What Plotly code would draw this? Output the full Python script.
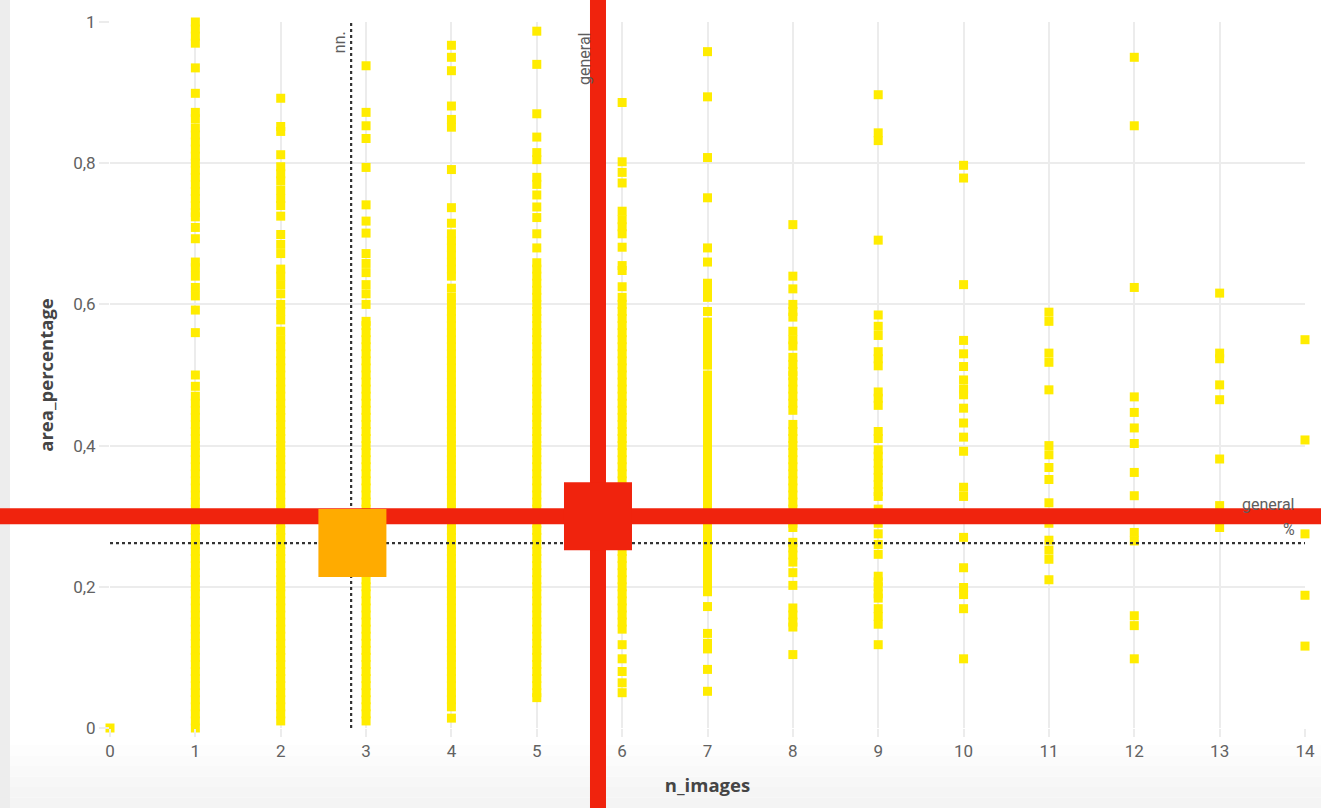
import plotly.graph_objects as go

# ---------------- data ----------------
n_images = list(range(15))

area_n0 = [0.0]
area_n1 = [1.0, 0.99, 0.98, 0.97, 0.935, 0.899, 0.872, 0.863,
           0.85, 0.84, 0.83, 0.82, 0.81, 0.80, 0.79, 0.78, 0.77, 0.76, 0.75, 0.74, 0.73, 0.724,
           0.709, 0.693, 0.66, 0.652, 0.64, 0.624, 0.612, 0.592, 0.56, 0.50,
           0.484, 0.47, 0.46, 0.45, 0.44, 0.43, 0.42, 0.41, 0.40, 0.39, 0.38, 0.37, 0.36, 0.35,
           0.34, 0.33, 0.32, 0.31, 0.30, 0.29, 0.28, 0.27, 0.26, 0.25, 0.24, 0.23, 0.22, 0.21,
           0.20, 0.19, 0.18, 0.17, 0.16, 0.15, 0.14, 0.13, 0.12, 0.11, 0.10, 0.09, 0.08, 0.07,
           0.06, 0.05, 0.04, 0.03, 0.02, 0.01, 0.0]
area_n2 = [0.892, 0.852, 0.845, 0.812, 0.795, 0.785, 0.775, 0.762, 0.75, 0.74, 0.725, 0.699,
           0.685, 0.672, 0.65, 0.64, 0.628, 0.615, 0.60, 0.59, 0.578,
           0.562, 0.55, 0.54, 0.53, 0.52, 0.51, 0.50, 0.49, 0.48, 0.47, 0.46, 0.45, 0.44, 0.43,
           0.42, 0.41, 0.40, 0.39, 0.38, 0.37, 0.36, 0.35, 0.34, 0.33, 0.32, 0.31, 0.30, 0.29,
           0.28, 0.27, 0.26, 0.25, 0.24, 0.23, 0.22, 0.21, 0.20, 0.19, 0.18, 0.17, 0.16, 0.15,
           0.14, 0.13, 0.12, 0.11, 0.10, 0.09, 0.08, 0.07, 0.06, 0.05, 0.04, 0.03, 0.02, 0.01]
area_n3 = [0.938, 0.872, 0.853, 0.835, 0.794, 0.741, 0.718, 0.701, 0.672, 0.658, 0.645, 0.628,
           0.615, 0.60,
           0.576, 0.57, 0.56, 0.55, 0.54, 0.53, 0.52, 0.51, 0.50, 0.49, 0.48, 0.47, 0.46, 0.45,
           0.44, 0.43, 0.42, 0.41, 0.40, 0.39, 0.38, 0.37, 0.36, 0.35, 0.34, 0.33, 0.32, 0.31,
           0.30, 0.29, 0.28, 0.27, 0.26, 0.25, 0.24, 0.23, 0.22, 0.21, 0.20, 0.19, 0.18, 0.17,
           0.16, 0.15, 0.14, 0.13, 0.12, 0.11, 0.10, 0.09, 0.08, 0.07, 0.06, 0.05, 0.04, 0.03,
           0.02, 0.01]
area_n4 = [0.967, 0.95, 0.931, 0.881, 0.862, 0.851, 0.791, 0.737,
           0.715, 0.70, 0.69, 0.68, 0.67, 0.66, 0.65, 0.64,
           0.623, 0.61, 0.60, 0.59, 0.58, 0.57, 0.56, 0.55, 0.54, 0.53, 0.52, 0.51, 0.50, 0.49,
           0.48, 0.47, 0.46, 0.45, 0.44, 0.43, 0.42, 0.41, 0.40, 0.39, 0.38, 0.37, 0.36, 0.35,
           0.34, 0.33, 0.32, 0.31, 0.30, 0.29, 0.28, 0.27, 0.26, 0.25, 0.24, 0.23, 0.22, 0.21,
           0.20, 0.19, 0.18, 0.17, 0.16, 0.15, 0.14, 0.13, 0.12, 0.11, 0.10, 0.09, 0.08, 0.07,
           0.06, 0.05, 0.04, 0.03, 0.014]
area_n5 = [0.987, 0.94, 0.87, 0.837, 0.815, 0.805, 0.78, 0.77, 0.755, 0.738, 0.723, 0.70, 0.68,
           0.659, 0.65, 0.64, 0.63, 0.62, 0.61, 0.60, 0.59, 0.58, 0.57, 0.56, 0.55, 0.54, 0.53,
           0.52, 0.51, 0.50, 0.49, 0.48, 0.47, 0.46, 0.45, 0.44, 0.43, 0.42, 0.41, 0.40, 0.39,
           0.38, 0.37, 0.36, 0.35, 0.34, 0.33, 0.32, 0.31, 0.30, 0.29, 0.28, 0.27, 0.26, 0.25,
           0.24, 0.23, 0.22, 0.21, 0.20, 0.19, 0.18, 0.17, 0.16, 0.15, 0.14, 0.13, 0.12, 0.11,
           0.10, 0.09, 0.08, 0.07, 0.06, 0.05, 0.043]
area_n6 = [0.886, 0.802, 0.787, 0.772, 0.732, 0.72, 0.71, 0.70, 0.681, 0.655, 0.648,
           0.625, 0.61, 0.60, 0.59, 0.58, 0.57, 0.56, 0.55, 0.54, 0.53, 0.52, 0.51, 0.50, 0.49,
           0.48, 0.47, 0.46, 0.45, 0.44, 0.43, 0.42, 0.41, 0.40, 0.39, 0.38, 0.37, 0.36, 0.35,
           0.34, 0.33, 0.32, 0.31, 0.30, 0.29, 0.28, 0.27, 0.26, 0.25, 0.24, 0.23, 0.22, 0.21,
           0.20, 0.19, 0.18, 0.17, 0.16, 0.15, 0.14,
           0.118, 0.098, 0.08, 0.064, 0.05]
area_n7 = [0.958, 0.894, 0.808, 0.751, 0.68, 0.66, 0.63, 0.62, 0.61, 0.59, 0.575, 0.565,
           0.555, 0.545, 0.535, 0.525,
           0.514, 0.50, 0.49, 0.48, 0.47, 0.46, 0.45, 0.44, 0.43, 0.42, 0.41, 0.40, 0.39, 0.38,
           0.37, 0.36, 0.35, 0.34, 0.33, 0.32, 0.31, 0.30, 0.29, 0.28, 0.27, 0.26, 0.25, 0.24,
           0.23, 0.22, 0.21, 0.20, 0.193,
           0.172, 0.134, 0.12, 0.112, 0.083, 0.052]
area_n8 = [0.713, 0.64, 0.622, 0.60, 0.59, 0.582, 0.562, 0.55, 0.541, 0.525, 0.515, 0.505,
           0.499, 0.49, 0.48, 0.47, 0.46, 0.45,
           0.43, 0.42, 0.41, 0.40, 0.39, 0.38, 0.37, 0.36, 0.35, 0.34, 0.33, 0.32, 0.31, 0.30,
           0.29, 0.284,
           0.263, 0.255, 0.245, 0.235, 0.22, 0.202, 0.17, 0.16, 0.15, 0.143, 0.104]
area_n9 = [0.897, 0.843, 0.832, 0.691, 0.585, 0.569, 0.556, 0.533, 0.523, 0.513, 0.476, 0.467,
           0.457, 0.42, 0.41, 0.394, 0.385, 0.375, 0.365, 0.355, 0.345, 0.335, 0.328, 0.31,
           0.29, 0.275, 0.26, 0.246, 0.215, 0.207, 0.20, 0.19, 0.184, 0.169, 0.158, 0.147, 0.118]
area_n10 = [0.797, 0.779, 0.628, 0.549, 0.53, 0.512, 0.493, 0.48, 0.472, 0.453, 0.432, 0.412,
            0.392, 0.341, 0.328, 0.27, 0.227, 0.199, 0.189, 0.169, 0.098]
area_n11 = [0.589, 0.576, 0.531, 0.518, 0.479, 0.40, 0.387, 0.369, 0.352, 0.319, 0.30, 0.29,
            0.266, 0.252, 0.239, 0.21]
area_n12 = [0.95, 0.853, 0.624, 0.469, 0.447, 0.425, 0.403, 0.362, 0.329, 0.277, 0.265,
            0.159, 0.145, 0.098]
area_n13 = [0.616, 0.531, 0.523, 0.486, 0.465, 0.381, 0.315, 0.30, 0.284]
area_n14 = [0.55, 0.408, 0.275, 0.188, 0.116]

area_columns = [area_n0, area_n1, area_n2, area_n3, area_n4, area_n5, area_n6, area_n7,
                area_n8, area_n9, area_n10, area_n11, area_n12, area_n13, area_n14]

# reference lines / averages
general_x = 5.717      # general average n_images (red)
general_y = 0.300      # general average area_percentage (red)
nn_x = 2.84            # "nn." average point (orange)
nn_y = 0.262
nn_line_x = 2.825      # dotted reference lines
nn_line_y = 0.262

x_ticks = list(range(15))
y_ticks = [0, 0.2, 0.4, 0.6, 0.8, 1]

# ---------------- layout geometry ----------------
W, H = 1321, 808
PL, PR, PT, PB = 110, 1305, 22, 728          # plot-area pixel box
X_RANGE = [0, 14]
Y_RANGE = [0, 1]
ux = (X_RANGE[1] - X_RANGE[0]) / (PR - PL)
uy = (Y_RANGE[1] - Y_RANGE[0]) / (PB - PT)
X2_RANGE = [X_RANGE[0] - PL * ux, X_RANGE[1] + (W - PR) * ux]
Y2_RANGE = [Y_RANGE[0] - (H - PB) * uy, Y_RANGE[1] + PT * uy]

YELLOW = "#FFEC00"
RED = "#F0230D"
ORANGE = "#FFAB00"
GRID = "#ECECEC"
TXT = "#626262"
FONT = "Roboto"
TITLE_FONT = "Open Sans"

xs, ys = [], []
for n, col in zip(n_images, area_columns):
    xs += [n] * len(col)
    ys += col

fig = go.Figure()
fig.add_trace(go.Scatter(x=xs, y=ys, mode="markers", cliponaxis=False,
                         marker=dict(symbol="square", size=9, color=YELLOW),
                         hoverinfo="x+y", showlegend=False))
# dotted reference lines
fig.add_trace(go.Scatter(x=[nn_line_x, nn_line_x], y=Y_RANGE, mode="lines",
                         line=dict(color="#333333", width=2.2, dash="dot"),
                         hoverinfo="skip", showlegend=False))
fig.add_trace(go.Scatter(x=X_RANGE, y=[nn_line_y, nn_line_y], mode="lines",
                         line=dict(color="#333333", width=2.2, dash="dot"),
                         hoverinfo="skip", showlegend=False))
# full-page overlay subplot for the red cross and average markers
fig.add_trace(go.Scatter(x=[general_x, general_x], y=Y2_RANGE, mode="lines",
                         xaxis="x2", yaxis="y2", line=dict(color=RED, width=16),
                         hoverinfo="skip", showlegend=False))
fig.add_trace(go.Scatter(x=X2_RANGE, y=[general_y, general_y], mode="lines",
                         xaxis="x2", yaxis="y2", line=dict(color=RED, width=16),
                         hoverinfo="skip", showlegend=False))
fig.add_trace(go.Scatter(x=[nn_x], y=[nn_y], mode="markers", xaxis="x2", yaxis="y2",
                         cliponaxis=False,
                         marker=dict(symbol="square", size=68, color=ORANGE),
                         showlegend=False))
fig.add_trace(go.Scatter(x=[general_x], y=[general_y], mode="markers", xaxis="x2", yaxis="y2",
                         cliponaxis=False,
                         marker=dict(symbol="square", size=68, color=RED),
                         showlegend=False))

shapes = [
    dict(type="rect", xref="paper", yref="paper", x0=0, x1=10 / W, y0=0, y1=1,
         fillcolor="#EDEDED", line=dict(width=0), layer="below"),
]
grad = ["#FDFDFD", "#FBFBFB", "#F9F9F9", "#F7F7F7", "#F5F5F5", "#F4F4F4"]
band_top = 745
step = (H - band_top) / len(grad)
for i, c in enumerate(grad):
    y_top = band_top + i * step
    shapes.append(dict(type="rect", xref="paper", yref="paper",
                       x0=10 / W, x1=1, y0=(H - (y_top + step)) / H, y1=(H - y_top) / H,
                       fillcolor=c, line=dict(width=0), layer="below"))

ann_font = dict(family=FONT, size=16, color="#5E5E5E")
annotations = [
    dict(text="nn.", x=nn_line_x - 12 * ux, y=Y_RANGE[1] - 20 * uy, xref="x", yref="y",
         textangle=-90, showarrow=False, xanchor="center", yanchor="middle", font=ann_font),
    dict(text="general", x=general_x - 14 * ux, y=Y_RANGE[1] - 36 * uy, xref="x", yref="y",
         textangle=-90, showarrow=False, xanchor="center", yanchor="middle", font=ann_font),
    dict(text="general", x=X_RANGE[1] - 8 * ux, y=general_y + 12 * uy, xref="x", yref="y",
         showarrow=False, xanchor="right", yanchor="middle", font=ann_font),
    dict(text="%", x=X_RANGE[1] - 8 * ux, y=general_y - 13 * uy, xref="x", yref="y",
         showarrow=False, xanchor="right", yanchor="middle", font=ann_font),
]

fig.update_layout(
    width=W, height=H,
    margin=dict(l=0, r=0, t=0, b=0, pad=0),
    paper_bgcolor="white", plot_bgcolor="rgba(0,0,0,0)",
    separators=",.",
    font=dict(family=FONT, color=TXT),
    shapes=shapes, annotations=annotations,
    xaxis=dict(domain=[PL / W, PR / W], range=X_RANGE, tickvals=x_ticks,
               showgrid=True, gridcolor=GRID, gridwidth=1.5, zeroline=False,
               showline=False, ticks="outside", ticklen=8, tickcolor=GRID, tickwidth=1.5,
               tickfont=dict(family=FONT, size=17, color=TXT),
               title=dict(text="<b>n_images</b>", standoff=18,
                          font=dict(family=TITLE_FONT, size=18.5, color="#454545")),
               automargin=False, fixedrange=True, anchor="y"),
    yaxis=dict(domain=[(H - PB) / H, (H - PT) / H], range=Y_RANGE, tickvals=y_ticks,
               showgrid=True, gridcolor=GRID, gridwidth=1.5, zeroline=False,
               showline=False, ticks="outside", ticklen=10, tickcolor=GRID, tickwidth=1.5,
               tickfont=dict(family=FONT, size=17, color=TXT),
               title=dict(text="<b>area_percentage</b>", standoff=14,
                          font=dict(family=TITLE_FONT, size=18.5, color="#454545")),
               automargin=False, fixedrange=True, anchor="x"),
    xaxis2=dict(domain=[0, 1], range=X2_RANGE, visible=False, anchor="y2", fixedrange=True),
    yaxis2=dict(domain=[0, 1], range=Y2_RANGE, visible=False, anchor="x2", fixedrange=True),
)

# the page body gets no default 8px margin so the figure fills the window exactly
fig.write_html("out.html", config={"displayModeBar": False},
               post_script="document.body.style.margin='0px';")
